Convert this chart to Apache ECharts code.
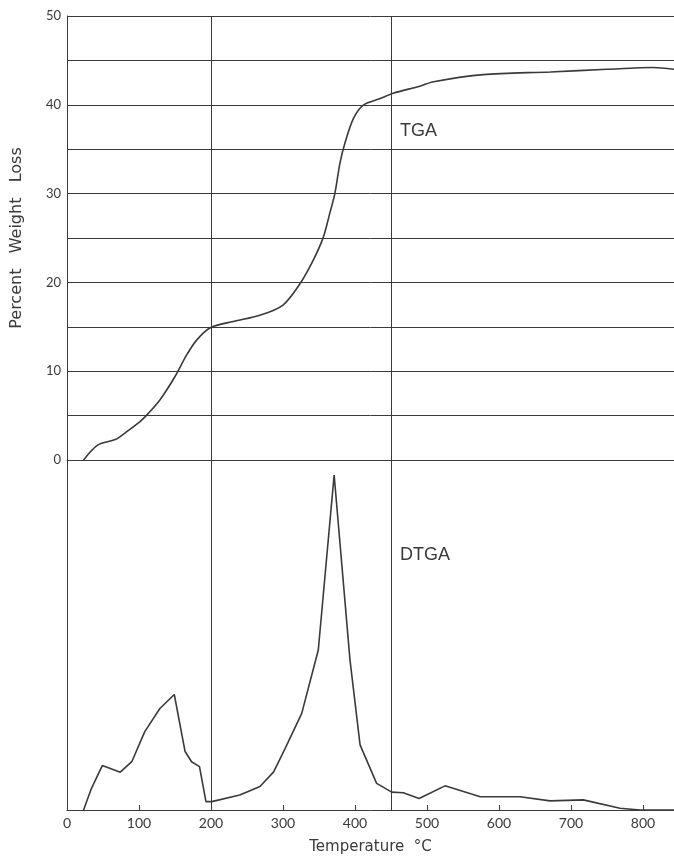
<!DOCTYPE html>
<html><head><meta charset="utf-8">
<script src="https://cdn.jsdelivr.net/npm/echarts@6/dist/echarts.min.js"></script>
<style>html,body{margin:0;padding:0;background:#fff}#c{width:674px;height:859px}</style>
</head><body><div id="c"></div>
<script>
// TGA: temperature (°C), percent weight loss
const tgaT = [23, 43, 67, 83, 101, 113, 129, 150, 166, 180, 199, 231, 268, 300, 324, 342, 356, 365, 372, 379, 386, 398, 412, 435, 453, 490, 509, 578, 671, 750, 814, 843];
const tgaV = [0, 1.7, 2.3, 3.2, 4.3, 5.25, 6.75, 9.4, 11.8, 13.5, 14.9, 15.6, 16.3, 17.45, 19.9, 22.5, 25.1, 27.8, 30.0, 33.4, 35.7, 38.5, 40.0, 40.7, 41.3, 42.1, 42.6, 43.4, 43.7, 44.0, 44.2, 44.0];
// DTGA: temperature (°C), relative rate (arbitrary units)
const dtgT = [23, 34, 49, 74, 90, 108, 129, 149, 164, 173, 184, 193, 201, 240, 268, 287, 303, 326, 349, 371, 393, 407, 430, 451, 467, 489, 525, 574, 629, 671, 717, 768, 796, 843];
const dtgV = [0, 6.2, 12.7, 10.8, 13.8, 22.4, 29.0, 33.0, 16.7, 13.8, 12.4, 2.4, 2.4, 4.3, 6.7, 10.9, 17.6, 27.6, 45.7, 95.7, 42.9, 18.6, 7.6, 5.1, 4.95, 3.3, 6.9, 3.8, 3.8, 2.6, 2.9, 0.5, 0, 0];
const xTicks = [0, 100, 200, 300, 400, 500, 600, 700, 800];
const yTicks = [0, 10, 20, 30, 40, 50];
const vLines = [200, 450];

const ink = '#3a3a3a';
const font = 'Lato, "DejaVu Sans", sans-serif';
const titleFont = '"DejaVu Sans", sans-serif';
const chart = echarts.init(document.getElementById('c'), null, {renderer: 'canvas'});
const vMark = {
  silent: true, symbol: 'none', label: {show: false},
  lineStyle: {color: ink, width: 1, type: 'solid'},
  data: vLines.map(v => ({xAxis: v}))
};
chart.setOption({
  animation: false,
  backgroundColor: '#fff',
  grid: [
    {left: 67, right: 0, top: 16, height: 444, outerBoundsMode: 'none', containLabel: false},
    {left: 67, right: 0, top: 460, height: 350, outerBoundsMode: 'none', containLabel: false}
  ],
  xAxis: [
    {gridIndex: 0, type: 'value', min: 0, max: 843, interval: 100,
     axisLine: {show: true, lineStyle: {color: ink, width: 1}},
     axisTick: {show: false}, axisLabel: {show: false}, splitLine: {show: false}},
    {gridIndex: 1, type: 'value', min: 0, max: 843, interval: 100,
     axisLine: {show: true, onZero: false, lineStyle: {color: ink, width: 1}},
     axisTick: {show: true, inside: true, length: 5, lineStyle: {color: ink}},
     axisLabel: {color: ink, fontFamily: font, fontSize: 14, margin: 6,
       formatter: v => xTicks.includes(v) ? String(v) : ''},
     splitLine: {show: false},
     name: 'Temperature  °C', nameLocation: 'middle', nameGap: 30,
     nameTextStyle: {color: ink, fontFamily: titleFont, fontSize: 15}}
  ],
  yAxis: [
    {gridIndex: 0, type: 'value', min: 0, max: 50, interval: 5,
     axisLine: {show: true, lineStyle: {color: ink, width: 1}},
     axisTick: {show: false},
     axisLabel: {color: ink, fontFamily: font, fontSize: 13, margin: 6,
       formatter: v => yTicks.includes(v) ? String(v) : ''},
     splitLine: {show: true, lineStyle: {color: ink, width: 1}},
     name: 'Percent   Weight   Loss', nameLocation: 'middle', nameGap: 42,
     nameTextStyle: {color: ink, fontFamily: titleFont, fontSize: 16}},
    {gridIndex: 1, type: 'value', min: 0, max: 100,
     axisLine: {show: true, lineStyle: {color: ink, width: 1}},
     axisTick: {show: false}, axisLabel: {show: false}, splitLine: {show: false}}
  ],
  series: [
    {type: 'line', xAxisIndex: 0, yAxisIndex: 0, smooth: 0.3, showSymbol: false,
     data: tgaT.map((t, i) => [t, tgaV[i]]),
     lineStyle: {color: ink, width: 1.6}, markLine: vMark},
    {type: 'line', xAxisIndex: 1, yAxisIndex: 1, smooth: false, showSymbol: false,
     data: dtgT.map((t, i) => [t, dtgV[i]]),
     lineStyle: {color: ink, width: 1.6}, markLine: vMark}
  ],
  graphic: [
    {type: 'text', left: 400, top: 122, style: {text: 'TGA', fill: ink, fontFamily: '"Liberation Sans", Arial, sans-serif', fontSize: 18}},
    {type: 'text', left: 400, top: 546, style: {text: 'DTGA', fill: ink, fontFamily: '"Liberation Sans", Arial, sans-serif', fontSize: 18}}
  ]
});
</script></body></html>
